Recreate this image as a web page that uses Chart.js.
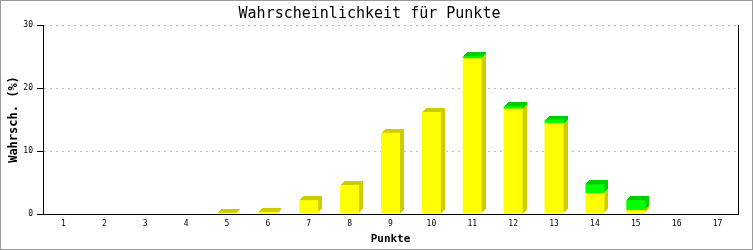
<!DOCTYPE html>
<html>
<head>
<meta charset="utf-8">
<script src="https://cdn.jsdelivr.net/npm/chart.js@4"></script>
<style>
  html, body { margin: 0; padding: 0; background: #fff; }
  #wrap { position: relative; width: 753px; height: 250px; box-sizing: border-box; border: 1px solid #999; }
</style>
</head>
<body>
<div id="wrap"><canvas id="chart" width="751" height="248"></canvas></div>
<script>
const punkte = ['1','2','3','4','5','6','7','8','9','10','11','12','13','14','15','16','17'];
const gelb  = [0, 0, 0, 0, 0.2, 0.35, 2.2, 4.6, 12.9, 16.2, 24.7, 16.7, 14.4, 3.3, 0.6, 0, 0];
const gruen = [0, 0, 0, 0, 0, 0, 0, 0, 0, 0, 0.35, 0.4, 0.6, 1.4, 1.6, 0, 0];
const yTicks = [0, 10, 20, 30];

const mono = "'DejaVu Sans Mono', 'Liberation Mono', monospace";

// simple fake 3d: draw a darker copy of each bar shifted up/right before the fronts
const depth = {
  id: 'depth',
  beforeDatasetsDraw(chart) {
    const ctx = chart.ctx;
    const d = 4;
    const shades = ['#cccc00', '#00cc00'];
    chart.data.datasets.forEach((ds, i) => {
      chart.getDatasetMeta(i).data.forEach(bar => {
        const h = bar.base - bar.y;
        if (h <= 0.01) return;
        const left = bar.x - bar.width / 2;
        ctx.save();
        ctx.fillStyle = shades[i];
        for (let k = 1; k <= d; k++) {
          ctx.fillRect(Math.round(left + k), Math.round(bar.y - k), Math.round(bar.width), Math.round(h));
        }
        ctx.restore();
      });
    });
  },
  afterDraw(chart) {
    const ctx = chart.ctx;
    const a = chart.chartArea;
    ctx.save();
    ctx.strokeStyle = '#000';
    ctx.lineWidth = 1;
    ctx.beginPath();
    ctx.moveTo(Math.round(a.right) + 0.5, a.top);
    ctx.lineTo(Math.round(a.right) + 0.5, a.bottom);
    ctx.stroke();
    ctx.restore();
  }
};

new Chart(document.getElementById('chart'), {
  type: 'bar',
  data: {
    labels: punkte,
    datasets: [
      { data: gelb, backgroundColor: '#ffff00', barThickness: 19, inflateAmount: 0 },
      { data: gruen, backgroundColor: '#00ff00', barThickness: 19, inflateAmount: 0 }
    ]
  },
  options: {
    responsive: false,
    animation: false,
    layout: { padding: { top: 0, right: 14, left: 0, bottom: 0 } },
    plugins: {
      legend: { display: false },
      tooltip: { enabled: false },
      title: {
        display: true,
        text: 'Wahrscheinlichkeit für Punkte',
        color: '#000',
        font: { family: mono, size: 15, weight: 'normal' },
        padding: { top: 4, bottom: 2 }
      }
    },
    scales: {
      x: {
        stacked: true,
        grid: { display: false, drawTicks: false },
        border: { color: '#000', width: 1 },
        ticks: { color: '#000', font: { family: mono, size: 8 }, padding: 5, maxRotation: 0 },
        title: { display: true, text: 'Punkte', color: '#000', font: { family: mono, size: 11, weight: 'bold' }, padding: { top: 4, bottom: 3 } },
        afterFit(scale) { scale.height = 35; }
      },
      y: {
        stacked: true,
        min: 0,
        max: 30,
        afterBuildTicks(scale) { scale.ticks = yTicks.map(v => ({ value: v })); },
        grid: { color: '#bbbbbb', tickColor: '#000', tickLength: 6, tickBorderDash: [] },
        border: { color: '#000', width: 1, dash: [2, 4] },
        ticks: { color: '#000', font: { family: mono, size: 8 }, padding: 4 },
        title: { display: true, text: 'Wahrsch. (%)', color: '#000', font: { family: mono, size: 12, weight: 'bold' }, padding: { top: 6, bottom: 6 } },
        afterFit(scale) { scale.width = 42; }
      }
    }
  },
  plugins: [depth]
});
</script>
</body>
</html>
